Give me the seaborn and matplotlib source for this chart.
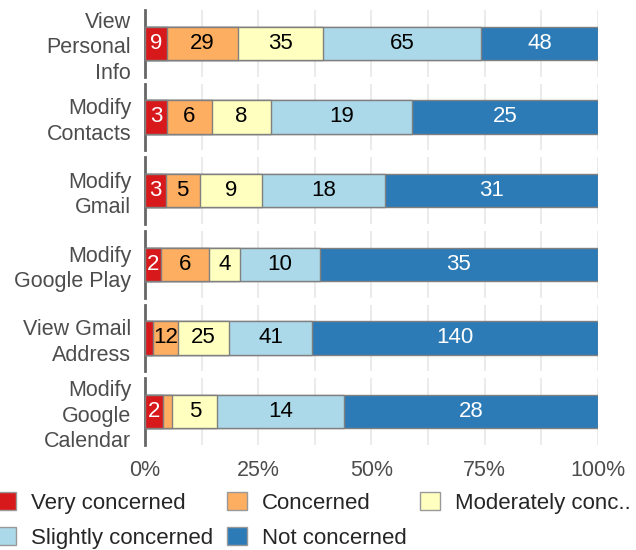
import pandas as pd
import matplotlib
matplotlib.use('Agg')
import matplotlib.pyplot as plt
import matplotlib.patches as mpatches
from matplotlib.ticker import MultipleLocator, FuncFormatter
import seaborn as sns

# %%
questions = ['View\nPersonal\nInfo', 'Modify\nContacts', 'Modify\nGmail',
             'Modify\nGoogle Play', 'View Gmail\nAddress', 'Modify\nGoogle\nCalendar']
levels = ['Very concerned', 'Concerned', 'Moderately conc..',
          'Slightly concerned', 'Not concerned']

very_concerned = [9, 3, 3, 2, 4, 2]
concerned = [29, 6, 5, 6, 12, 1]
moderately = [35, 8, 9, 4, 25, 5]
slightly = [65, 19, 18, 10, 41, 14]
not_concerned = [48, 25, 31, 35, 140, 28]

colors = ['#d7191c', '#fdae61', '#ffffbf', '#abd9e9', '#2c7bb6']
text_colors = ['white', 'black', 'black', 'black', 'white']

# %%
sns.set_style('white')
plt.rcParams['font.family'] = ['Liberation Sans', 'DejaVu Sans']

df = pd.DataFrame({
    'question': questions,
    levels[0]: very_concerned,
    levels[1]: concerned,
    levels[2]: moderately,
    levels[3]: slightly,
    levels[4]: not_concerned,
})

fig, axes = plt.subplots(6, 1, figsize=(6.36, 5.5), dpi=100, sharex=True)
fig.subplots_adjust(left=0.228, right=0.940, top=0.982, bottom=0.191, hspace=0.105)

for ax, (_, row) in zip(axes, df.iterrows()):
    counts = row[levels].astype(float)
    pct = counts / counts.sum() * 100
    cum = pct.cumsum()

    # draw longest first so the shorter cumulative bars sit on top
    for lvl, col in reversed(list(zip(levels, colors))):
        sns.barplot(x=[cum[lvl]], y=[row['question']], orient='h', color=col,
                    saturation=1, width=0.5, edgecolor='#808080', linewidth=1,
                    ax=ax, zorder=3)

    start = 0
    for lvl, tc in zip(levels, text_colors):
        if pct[lvl] >= 3:
            ax.text(start + pct[lvl] / 2, 0, str(int(counts[lvl])), ha='center',
                    va='center', fontsize=16, color=tc, zorder=5)
        start += pct[lvl]

    ax.set_xlim(0, 100)
    ax.set_ylim(0.5, -0.5)
    ax.set_xlabel('')
    ax.set_ylabel('')
    ax.xaxis.set_major_locator(MultipleLocator(25))
    ax.xaxis.set_minor_locator(MultipleLocator(12.5))
    ax.xaxis.set_major_formatter(FuncFormatter(lambda v, p: f'{v:.0f}%'))
    ax.grid(True, axis='x', which='both', color='#ebebeb', linewidth=1.5, zorder=0)
    ax.set_axisbelow(True)
    for s in ['top', 'right', 'bottom']:
        ax.spines[s].set_visible(False)
    ax.spines['left'].set_color('#666666')
    ax.spines['left'].set_linewidth(2)
    ax.tick_params(axis='both', which='both', length=0)
    ax.tick_params(axis='y', labelsize=15.5, labelcolor='#4d4d4d', pad=10)
    ax.tick_params(axis='x', labelsize=15.5, labelcolor='#4d4d4d', pad=11)
    for t in ax.get_yticklabels():
        t.set_linespacing(1.27)

# legend is filled column by column, so reorder to read row by row
patches = [mpatches.Patch(facecolor=c, edgecolor='#999999', linewidth=1) for c in colors]
order = [0, 3, 1, 4, 2]
fig.legend([patches[i] for i in order], [levels[i] for i in order],
           loc='upper left', bbox_to_anchor=(-0.006, 0.106),
           ncol=3, frameon=False, fontsize=16, handlelength=0.9, handleheight=0.9,
           handletextpad=0.68, columnspacing=0.6, labelspacing=0.6, borderpad=0,
           borderaxespad=0)

fig.savefig('out.png', dpi=100)
